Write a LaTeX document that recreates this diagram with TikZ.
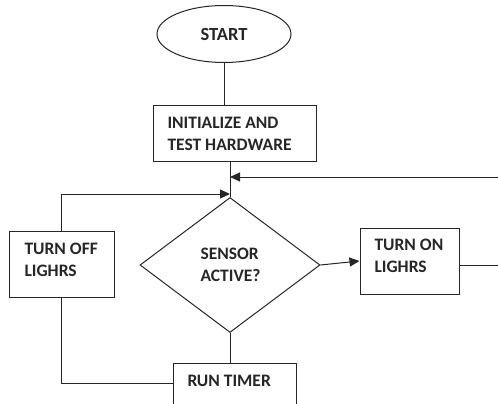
\documentclass[tikz,border=0pt]{standalone}
\usepackage{fontspec}
\setmainfont{Carlito}
\usetikzlibrary{shapes.geometric,arrows.meta}
\begin{document}
\begin{tikzpicture}[x=1pt,y=-1pt,
  line width=1pt, draw=black!85,
  every node/.style={font=\bfseries\fontsize{17.5}{21.5}\selectfont, text=black!85},
  box/.style={draw, rectangle, inner sep=0pt},
  lbl/.style={anchor=west, align=left, inner sep=0pt},
  arr/.style={-{Triangle[length=10pt,width=9pt]}}]
\useasboundingbox (0,0) rectangle (498,404);
% terminal
\node[draw, ellipse, minimum width=134, minimum height=57, inner sep=0pt,
      font=\bfseries\fontsize{18.5}{22}\selectfont] (start) at (224,34) {START};
% process boxes
\node[box, minimum width=163, minimum height=56] (init) at (234.5,133) {};
\node[lbl] (initt) at (167,134) {INITIALIZE AND\\TEST HARDWARE};
\node[box, minimum width=105, minimum height=66] (off) at (61.5,264) {};
\node[lbl] (offt) at (24,260) {TURN OFF\\LIGHRS};
\node[box, minimum width=99, minimum height=66] (on) at (409.5,261) {};
\node[lbl] (ont) at (374,256) {TURN ON\\LIGHRS};
\node[box, minimum width=123, minimum height=41] (timer) at (234.5,383.5) {};
\node[lbl] (timert) at (187,381) {RUN TIMER};
% decision
\node[draw, diamond, minimum width=180, minimum height=135, inner sep=0pt] (sens) at (230,265) {};
\node[lbl] (senst) at (200,265) {SENSOR\\ACTIVE?};
% junction above the decision
\coordinate (j) at (230,177);
\coordinate (k) at (230,194);
\coordinate (rin) at (498,177);
\coordinate (rout) at (498,265);
% connectors
\draw (start.south) -- (init.north -| start.south);
\draw (init.south -| j) -- (sens.north);
\draw[arr] (rin) -- (j);
\draw[arr] (off.north) |- (k);
\draw[arr] (sens.east) -- (on.west);
\draw (on.east |- rout) -- (rout);
\draw (sens.south) -- (timer.north -| sens.south);
\draw (off.south) |- (timer.west);
\end{tikzpicture}
\end{document}
